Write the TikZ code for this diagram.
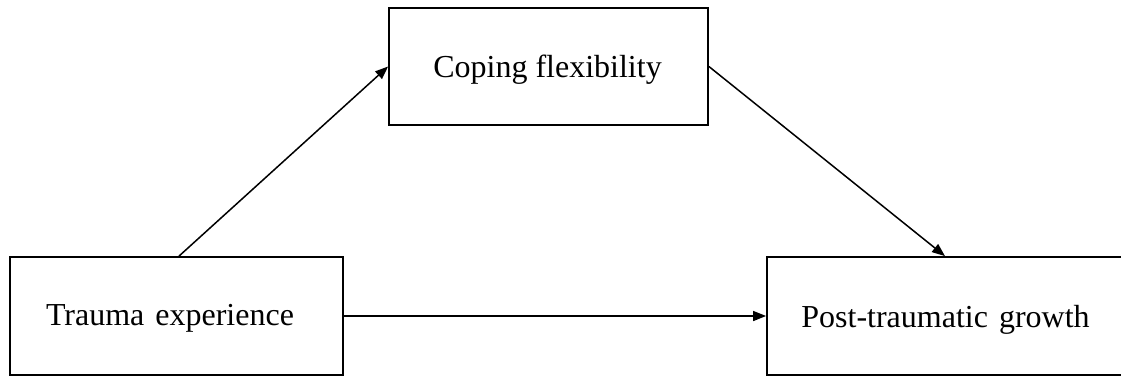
\documentclass[tikz,border=0pt]{standalone}
\usepackage{fontspec}
\setmainfont{Liberation Serif}
\usetikzlibrary{arrows.meta}
\tikzset{
  varbox/.style={draw=black, line width=1.8pt, rectangle, inner sep=0pt, fill=none},
  varlabel/.style={font=\fontsize{32}{38}\selectfont},
  link/.style={line width=1.5pt, -{Triangle[length=13pt,width=10pt]}}
}
\begin{document}
\begin{tikzpicture}[x=1pt,y=-1pt]
\useasboundingbox (0,0) rectangle (1121,376);
\node[varbox, minimum width=333pt, minimum height=118pt] (trauma) at (176.5,316) {};
\node[varlabel] (traumatext) at (170,318) {Trauma\hspace{3pt} experience};
\node[varbox, minimum width=319pt, minimum height=117pt] (coping) at (548.5,66.5) {};
\node[varlabel] (copingtext) at (547.5,70) {Coping flexibility};
\node[varbox, minimum width=380pt, minimum height=118pt] (post) at (957,316) {};
\node[varlabel] (posttext) at (945.5,320) {Post-traumatic\hspace{3pt} growth};
\draw[link] ([xshift=2.5pt]trauma.north) -- (coping.west);
\draw[link] (coping.east) -- ([xshift=-12pt]post.north);
\draw[link] (trauma.east) -- (post.west);
\end{tikzpicture}
\end{document}
